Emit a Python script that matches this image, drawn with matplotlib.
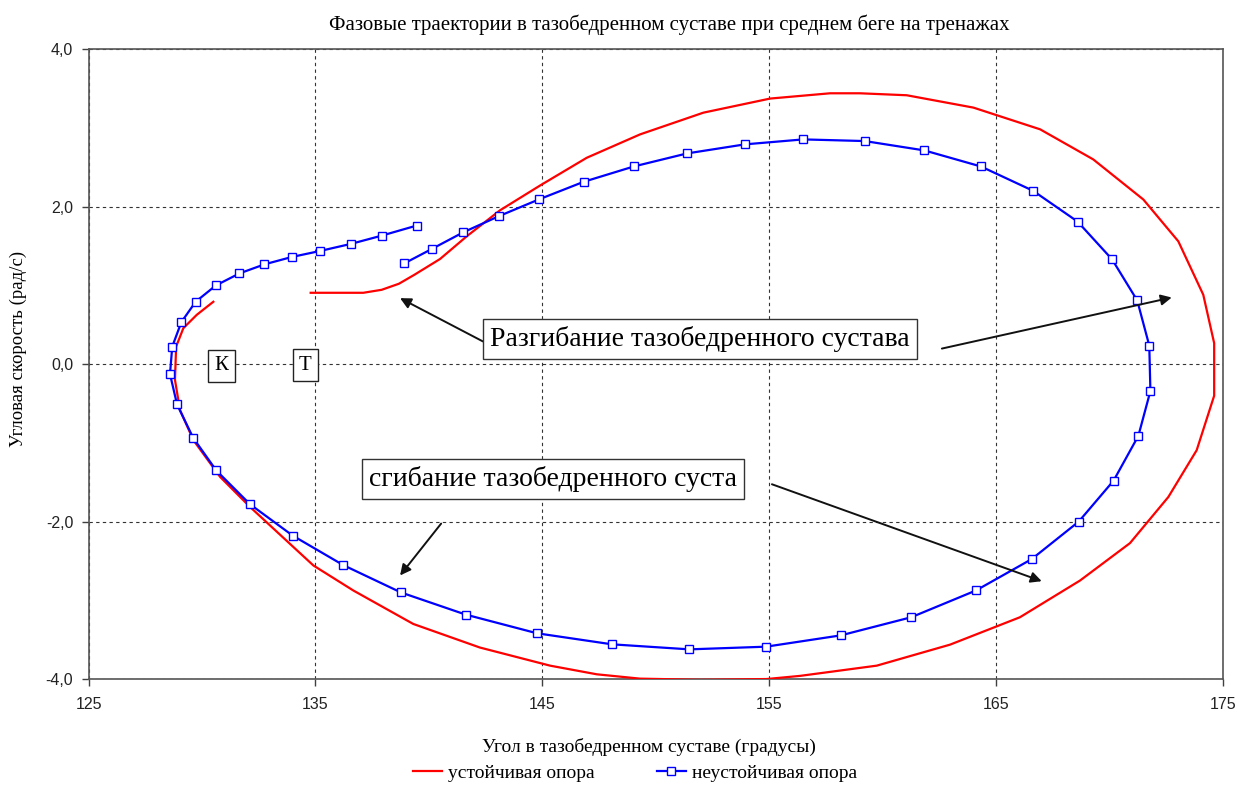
import matplotlib
matplotlib.use("Agg")
import matplotlib.pyplot as plt
from matplotlib.ticker import FixedLocator

# --- data -------------------------------------------------------------
# stable support: hip angle (deg) and angular velocity (rad/s)
stable_angle = [134.79, 137.11, 137.92, 138.68, 139.35, 140.49, 141.67, 143.14,
                144.90, 146.96, 149.31, 152.10, 155.04, 157.68, 159.00, 161.06,
                164.00, 166.94, 169.28, 171.49, 173.03, 174.13, 174.61, 174.61,
                173.84, 172.59, 170.90, 168.70, 166.05, 162.97, 159.74, 156.36,
                154.89, 151.95, 149.30, 147.40, 145.34, 142.25, 139.31, 136.67,
                134.91, 134.03, 132.12, 130.80, 129.62, 129.03, 128.81, 128.86,
                129.18, 129.77, 130.50]
stable_velocity = [0.908, 0.908, 0.946, 1.023, 1.135, 1.337, 1.626, 1.957,
                   2.271, 2.624, 2.921, 3.197, 3.376, 3.443, 3.443, 3.418,
                   3.261, 2.985, 2.603, 2.093, 1.562, 0.883, 0.268, -0.400,
                   -1.092, -1.687, -2.273, -2.748, -3.215, -3.563, -3.830, -3.960,
                   -4.000, -4.010, -3.995, -3.940, -3.830, -3.600, -3.300, -2.875,
                   -2.557, -2.323, -1.814, -1.432, -0.964, -0.582, -0.200, 0.224,
                   0.459, 0.628, 0.794]

# unstable support
unstable_angle = [138.92, 140.13, 141.52, 143.08, 144.87, 146.82, 149.03, 151.38,
                  153.93, 156.50, 159.21, 161.84, 164.33, 166.63, 168.59, 170.11,
                  171.22, 171.75, 171.80, 171.27, 170.18, 168.64, 166.57, 164.11,
                  161.26, 158.16, 154.86, 151.48, 148.07, 144.77, 141.62, 138.77,
                  136.23, 134.00, 132.12, 130.63, 129.61, 128.90, 128.59, 128.69,
                  129.09, 129.72, 130.61, 131.65, 132.75, 133.96, 135.20, 136.56,
                  137.92, 139.46]
unstable_velocity = [1.282, 1.465, 1.677, 1.881, 2.097, 2.318, 2.513, 2.679,
                     2.794, 2.857, 2.836, 2.717, 2.513, 2.204, 1.813, 1.333,
                     0.810, 0.237, -0.340, -0.909, -1.478, -2.000, -2.476, -2.875,
                     -3.215, -3.445, -3.589, -3.623, -3.559, -3.419, -3.181, -2.900,
                     -2.553, -2.178, -1.780, -1.350, -0.935, -0.510, -0.124, 0.224,
                     0.535, 0.794, 1.001, 1.154, 1.269, 1.363, 1.439, 1.529,
                     1.634, 1.762]

x_ticks = [125, 135, 145, 155, 165, 175]
y_ticks = [-4.0, -2.0, 0.0, 2.0, 4.0]
y_tick_labels = ["-4,0", "-2,0", "0,0", "2,0", "4,0"]

title = "Фазовые траектории в тазобедренном суставе при среднем беге на тренажах"
x_label = "Угол в тазобедренном суставе (градусы)"
y_label = "Угловая скорость (рад/с)"
stable_name = "устойчивая опора"
unstable_name = "неустойчивая опора"
extension_text = "Разгибание тазобедренного сустава"
flexion_text = "сгибание тазобедренного суста"

# --- figure -----------------------------------------------------------
serif = ["Liberation Serif", "DejaVu Serif"]
sans = ["Liberation Sans", "DejaVu Sans"]

fig = plt.figure(figsize=(12.4, 7.85), dpi=100)
ax = fig.add_axes([0.0714, 0.135, 0.9149, 0.802])

ax.plot(stable_angle, stable_velocity, color="#ff0000", lw=1.6,
        label=stable_name, zorder=3)
ax.plot(unstable_angle, unstable_velocity, color="#0000ff", lw=1.6,
        marker="s", ms=5.6, mfc="white", mec="#0000ff", mew=1.0,
        label=unstable_name, zorder=4)

ax.set_xlim(125, 175)
ax.set_ylim(-4, 4)
ax.xaxis.set_major_locator(FixedLocator(x_ticks))
ax.set_xticklabels([str(t) for t in x_ticks])
ax.yaxis.set_major_locator(FixedLocator(y_ticks))
ax.set_yticklabels(y_tick_labels)
ax.tick_params(direction="out", length=5, width=1, color="#404040",
               labelsize=11.5, pad=6)
for lbl in ax.get_xticklabels() + ax.get_yticklabels():
    lbl.set_family(sans)
    lbl.set_color("#222222")
ax.tick_params(axis="x", pad=8)

for s in ax.spines.values():
    s.set_color("#555555")
    s.set_linewidth(1.2)

ax.grid(True, color="#333333", linestyle=(0, (3, 3)), linewidth=0.8)
ax.set_axisbelow(True)

fig.text(0.540, 0.968, title, family=serif, fontsize=15,
         ha="center", va="center")
ax.set_xlabel(x_label, family=serif, fontsize=14)
ax.xaxis.set_label_coords(0.494, -0.093)
ax.set_ylabel(y_label, family=serif, fontsize=13.5)
ax.yaxis.set_label_coords(-0.054, 0.524)

# annotation boxes with arrows
box = dict(boxstyle="square,pad=0.25", fc="white", ec="#333333", lw=1.0)
arrow = dict(arrowstyle="-|>", color="#111111", lw=1.4,
             mutation_scale=16, shrinkA=0, shrinkB=0)

ax.text(151.95, 0.322, extension_text, family=serif, fontsize=20,
        ha="center", va="center", bbox=box, zorder=6)
ax.annotate("", xy=(138.73, 0.84), xytext=(142.38, 0.29),
            arrowprops=arrow, zorder=5)
ax.annotate("", xy=(172.74, 0.848), xytext=(162.61, 0.199),
            arrowprops=arrow, zorder=5)

ax.text(145.47, -1.455, flexion_text, family=serif, fontsize=20,
        ha="center", va="center", bbox=box, zorder=6)
ax.annotate("", xy=(138.73, -2.684), xytext=(140.54, -2.025),
            arrowprops=arrow, zorder=5)
ax.annotate("", xy=(167.01, -2.757), xytext=(155.12, -1.525),
            arrowprops=arrow, zorder=5)

# small marker boxes on the zero line
small_box = dict(boxstyle="square,pad=0.3", fc="white", ec="#222222", lw=1.0)
ax.text(130.85, -0.02, "К", family=serif, fontsize=15,
        ha="center", va="center", bbox=small_box, zorder=6)
ax.text(134.56, -0.01, "Т", family=serif, fontsize=15,
        ha="center", va="center", bbox=small_box, zorder=6)

leg = fig.legend(loc="center", bbox_to_anchor=(0.512, 0.015), ncol=2,
                 frameon=False, prop={"family": serif, "size": 14},
                 handlelength=1.5, columnspacing=3.2, handletextpad=0.3)

fig.savefig("out.png", dpi=100)
